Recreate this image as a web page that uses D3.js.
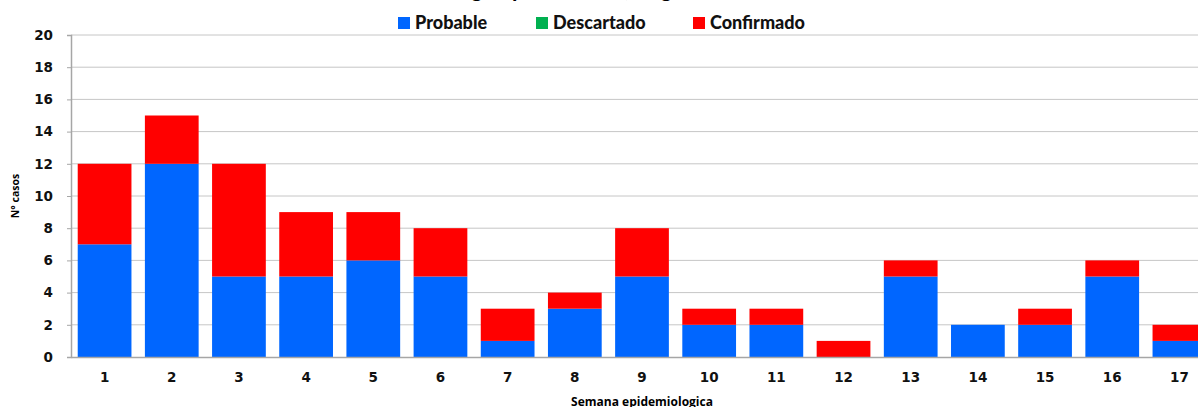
<!DOCTYPE html>
<html>
<head>
<meta charset="utf-8">
<script src="https://cdn.jsdelivr.net/npm/d3@7"></script>
<style>
  html, body { margin: 0; padding: 0; background: #fff; overflow: hidden; }
  svg { display: block; }
</style>
</head>
<body>
<svg id="chart" width="1198" height="407"></svg>
<script>
// Weekly case counts by classification
const weeks = ["1","2","3","4","5","6","7","8","9","10","11","12","13","14","15","16","17"];
const probable   = [7,12,5,5,6,5,1,3,5,2,2,0,5,2,2,5,1];
const descartado = [0,0,0,0,0,0,0,0,0,0,0,0,0,0,0,0,0];
const confirmado = [5,3,7,4,3,3,2,1,3,1,1,1,1,0,1,1,1];
const seriesNames = ["Probable", "Descartado", "Confirmado"];
const seriesColors = ["#0066FF", "#00B050", "#FF0000"];
const yTicks = [0,2,4,6,8,10,12,14,16,18,20];
const titleText = "Casos de Dengue por semana, Región Sanitaria Central 2024";

const svg = d3.select("#chart");
const margin = { left: 71, top: 35, bottom: 50 };
const plotW = 1142;
const plotH = 407 - margin.top - margin.bottom;

const rows = weeks.map((w, i) => ({
  week: w,
  Probable: probable[i],
  Descartado: descartado[i],
  Confirmado: confirmado[i]
}));
const stacked = d3.stack().keys(seriesNames)(rows);

const x = d3.scaleBand().domain(weeks).range([margin.left, margin.left + plotW])
  .paddingInner(0.2).paddingOuter(0.1);
const y = d3.scaleLinear().domain([0, 20]).range([margin.top + plotH, margin.top]);
const color = d3.scaleOrdinal().domain(seriesNames).range(seriesColors);

// Title (sits mostly above the top edge)
svg.append("text")
  .attr("x", 632).attr("y", -3)
  .attr("text-anchor", "middle")
  .style("font-family", "Lato, sans-serif")
  .style("font-weight", "bold")
  .style("font-size", "22px")
  .text(titleText);

// Horizontal gridlines
svg.append("g")
  .selectAll("line")
  .data(yTicks.filter(t => t > 0))
  .join("line")
  .attr("x1", margin.left).attr("x2", margin.left + plotW)
  .attr("y1", d => y(d)).attr("y2", d => y(d))
  .attr("stroke", "#c6c6c6").attr("stroke-width", 1);

// Stacked bars
svg.append("g")
  .selectAll("g")
  .data(stacked)
  .join("g")
  .attr("fill", d => color(d.key))
  .selectAll("rect")
  .data(d => d)
  .join("rect")
  .attr("x", d => x(d.data.week))
  .attr("width", x.bandwidth())
  .attr("y", d => y(d[1]))
  .attr("height", d => y(d[0]) - y(d[1]));

// Y axis
const yAxis = svg.append("g")
  .attr("transform", `translate(${margin.left},0)`)
  .call(d3.axisLeft(y).tickValues(yTicks).tickSize(4).tickPadding(14));
yAxis.select(".domain").attr("stroke", "#a6a6a6").attr("stroke-width", 1.5);
yAxis.selectAll(".tick line").attr("stroke", "#a6a6a6");
yAxis.selectAll("text")
  .style("font-family", "'DejaVu Sans', sans-serif")
  .style("font-weight", "bold")
  .style("font-size", "13.5px")
  .attr("fill", "#111");

// X axis
const xAxis = svg.append("g")
  .attr("transform", `translate(0,${margin.top + plotH})`)
  .call(d3.axisBottom(x).tickSize(0).tickPadding(15).tickSizeOuter(0));
xAxis.select(".domain").attr("stroke", "#a6a6a6").attr("stroke-width", 1.5);
xAxis.selectAll("text")
  .style("font-family", "'DejaVu Sans', sans-serif")
  .style("font-weight", "bold")
  .style("font-size", "13.5px")
  .attr("fill", "#111");

// Axis titles
svg.append("text")
  .attr("transform", `translate(19,${margin.top + plotH / 2}) rotate(-90)`)
  .attr("text-anchor", "middle")
  .style("font-family", "'Open Sans', sans-serif")
  .style("font-weight", "bold")
  .style("font-size", "10.5px")
  .text("N° casos");

svg.append("text")
  .attr("x", 642).attr("y", 406)
  .attr("text-anchor", "middle")
  .style("font-family", "'Open Sans', sans-serif")
  .style("font-weight", "bold")
  .style("font-size", "12px")
  .text("Semana epidemiologica");

// Legend
const legendX = [398, 536, 693];
const legend = svg.append("g")
  .selectAll("g")
  .data(seriesNames)
  .join("g")
  .attr("transform", (d, i) => `translate(${legendX[i]},0)`);
legend.append("rect")
  .attr("x", 0).attr("y", 17).attr("width", 12).attr("height", 12)
  .attr("fill", d => color(d));
legend.append("text")
  .attr("x", 17).attr("y", 29)
  .style("font-family", "Lato, sans-serif")
  .style("font-weight", "900")
  .style("font-size", "18px")
  .attr("fill", "#111")
  .text(d => d);
</script>
</body>
</html>
